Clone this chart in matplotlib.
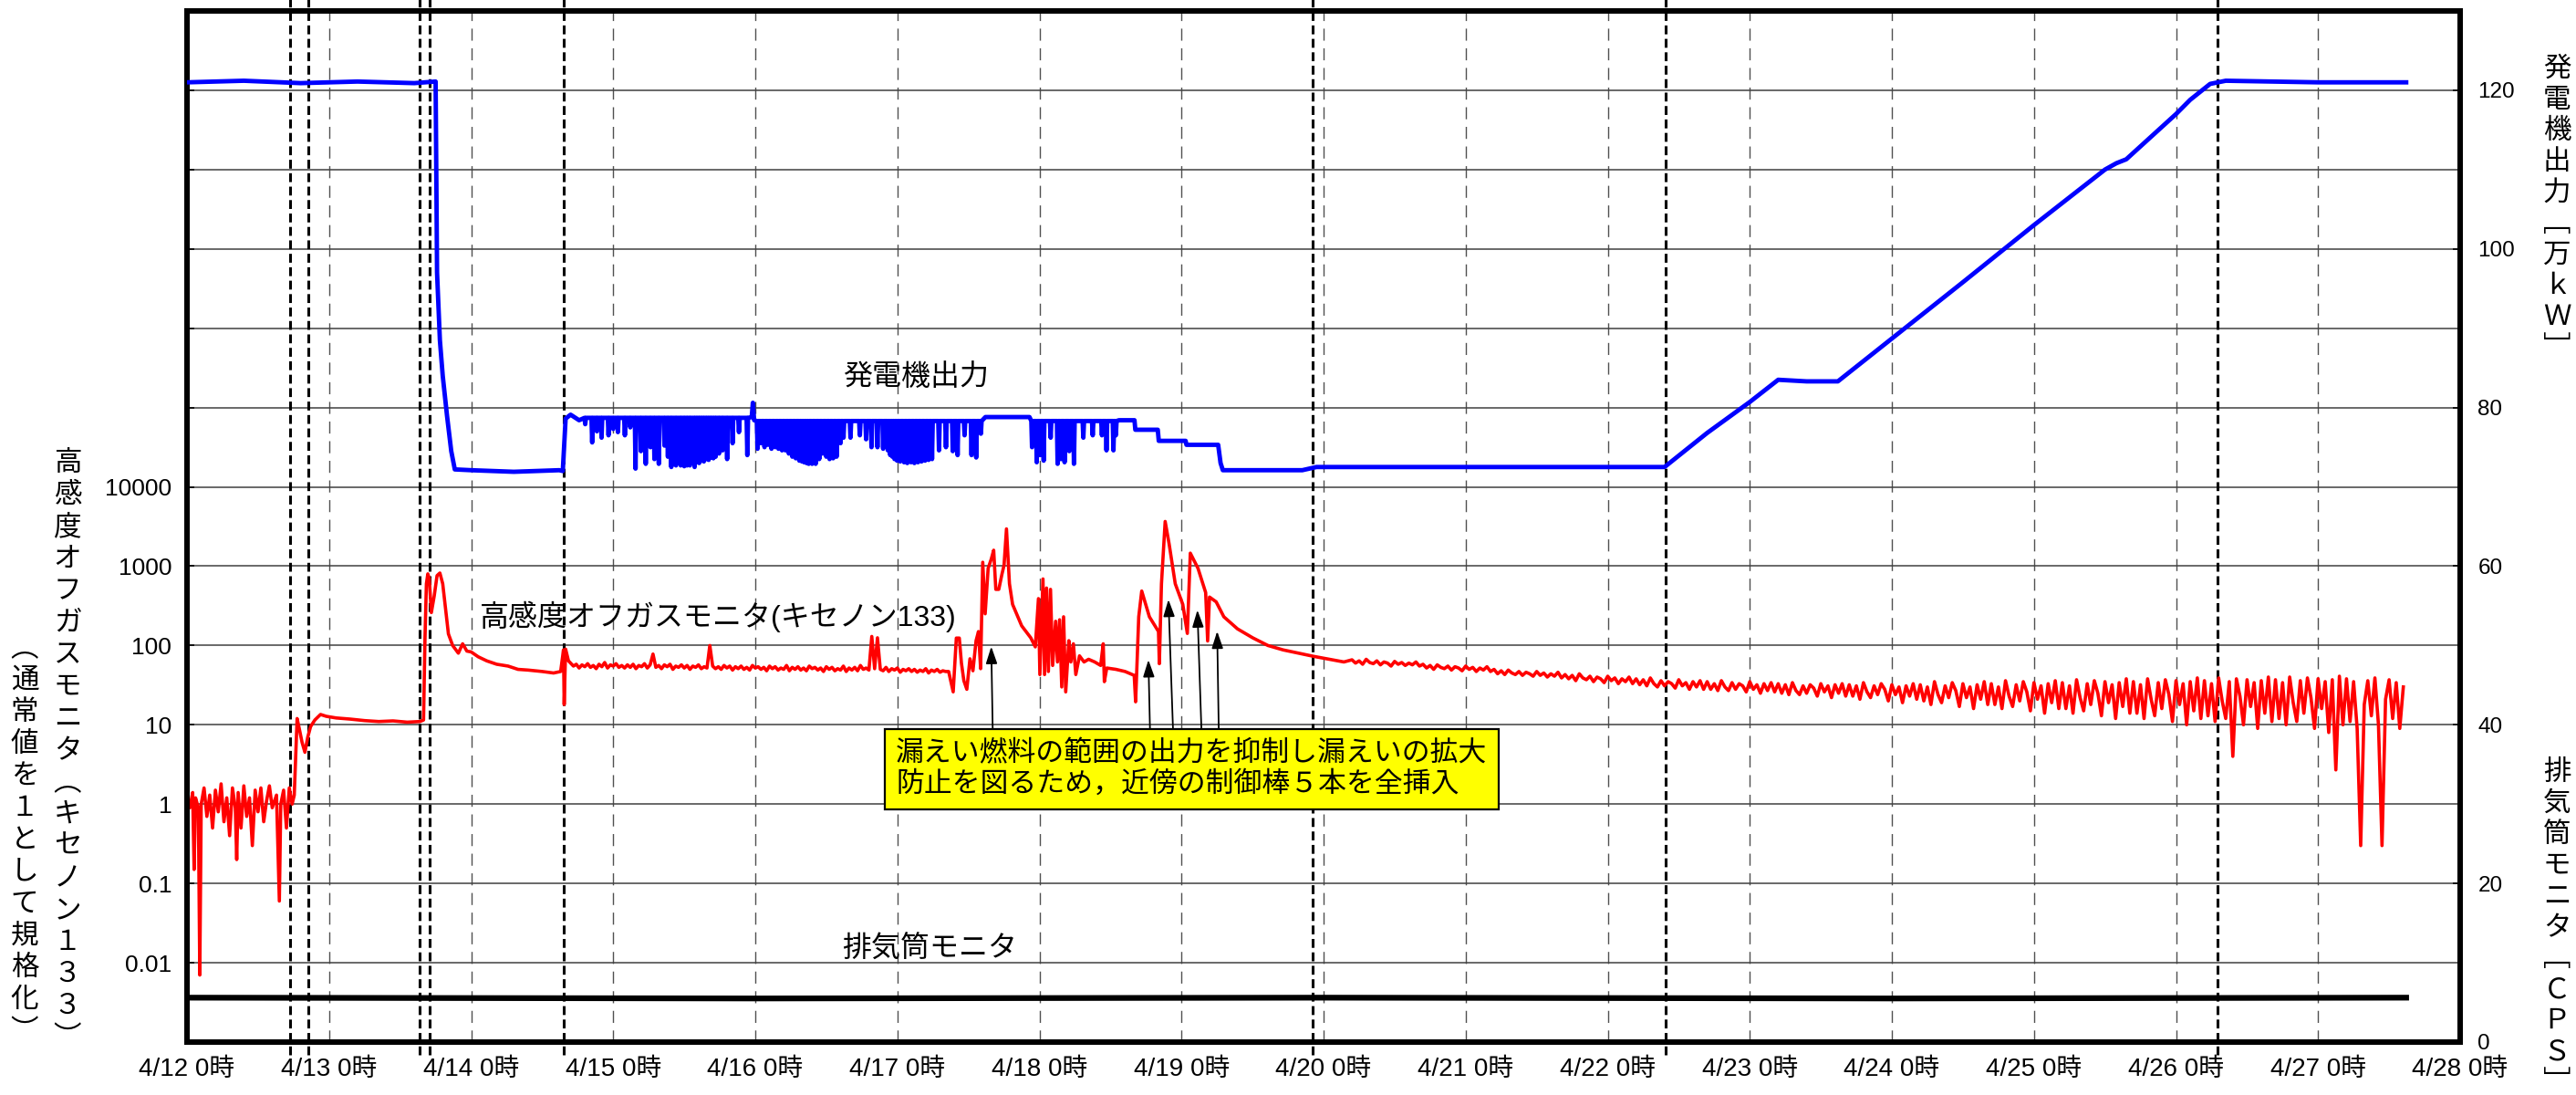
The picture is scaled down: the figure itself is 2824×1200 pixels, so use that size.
import numpy as np
import matplotlib
matplotlib.use('Agg')
import matplotlib.pyplot as plt
from matplotlib.ticker import FixedLocator, FuncFormatter, NullLocator

plt.rcParams['font.family'] = ['Liberation Sans', 'Noto Sans CJK JP', 'DejaVu Sans']
plt.rcParams['lines.scale_dashes'] = False

# x axis: days counted from 4/12 0時
day_labels = ['4/12 0時', '4/13 0時', '4/14 0時', '4/15 0時', '4/16 0時', '4/17 0時',
              '4/18 0時', '4/19 0時', '4/20 0時', '4/21 0時', '4/22 0時', '4/23 0時',
              '4/24 0時', '4/25 0時', '4/26 0時', '4/27 0時', '4/28 0時']

# thick dashed event markers (days)
event_days = [0.726, 0.854, 1.637, 1.708, 2.652, 7.92, 10.41, 14.29]

# ---- generator output [万kW] (right axis) ----
gen_head = [(0.00, 121.0), (0.40, 121.2), (0.80, 120.9), (1.20, 121.1), (1.60, 120.9),
            (1.750, 121.1), (1.760, 97.0), (1.780, 88.5), (1.800, 84.0), (1.830, 79.0),
            (1.860, 74.5), (1.885, 72.2), (2.00, 72.1), (2.30, 71.9), (2.62, 72.1),
            (2.645, 72.0), (2.665, 78.6), (2.700, 79.1), (2.760, 78.4)]
gen_top_a = 78.7
gen_dips_a = [(2.803, 77.9), (2.852, 75.6), (2.885, 77.0), (2.918, 76.2), (2.967, 76.5),
              (3.000, 77.3), (3.033, 76.9), (3.082, 76.5), (3.120, 77.5), (3.157, 72.3),
              (3.195, 74.5), (3.229, 72.9), (3.262, 75.0), (3.290, 73.5), (3.321, 72.9),
              (3.361, 75.2), (3.385, 73.8), (3.409, 72.5), (3.442, 72.7), (3.475, 72.7),
              (3.500, 72.6), (3.520, 72.7), (3.540, 72.7), (3.573, 72.5), (3.589, 73.1),
              (3.605, 73.0), (3.622, 73.3), (3.638, 73.2), (3.655, 73.5), (3.672, 73.4),
              (3.688, 73.7), (3.705, 73.6), (3.721, 73.8), (3.745, 74.2), (3.770, 74.6),
              (3.802, 73.5), (3.840, 75.5), (3.885, 76.9), (3.944, 74.0)]
gen_peak = [(3.975, 78.8), (3.983, 80.6), (3.992, 78.4)]
gen_top_b = 78.3
gen_dips_b = [(4.016, 74.8), (4.040, 75.5), (4.065, 75.0), (4.090, 75.3), (4.114, 74.8),
              (4.140, 75.0), (4.163, 74.8), (4.188, 74.6), (4.212, 74.6), (4.236, 74.2),
              (4.261, 73.8), (4.285, 73.6), (4.310, 73.3), (4.328, 73.2), (4.343, 73.1),
              (4.360, 73.0), (4.376, 72.9), (4.400, 72.9), (4.425, 72.9), (4.450, 73.5),
              (4.474, 74.2), (4.500, 73.8), (4.523, 73.5), (4.548, 73.6), (4.572, 73.8),
              (4.600, 75.5), (4.621, 76.2), (4.670, 76.2), (4.736, 76.5), (4.780, 76.0),
              (4.818, 75.0), (4.860, 75.0), (4.900, 74.8), (4.933, 74.6), (4.950, 74.0),
              (4.965, 73.8), (4.980, 73.5), (4.998, 73.3), (5.020, 73.2), (5.047, 73.1),
              (5.070, 73.0), (5.096, 73.1), (5.120, 73.0), (5.145, 73.1), (5.170, 73.2),
              (5.195, 73.3), (5.220, 73.4), (5.244, 73.5), (5.293, 74.6), (5.342, 75.0),
              (5.390, 74.5), (5.424, 74.0), (5.473, 76.5), (5.522, 74.0), (5.555, 73.7),
              (5.588, 76.7)]
gen_flat = [(5.620, 78.8), (5.930, 78.8)]
gen_top_c = 78.3
gen_dips_c = [(5.948, 75.0), (5.981, 73.1), (6.005, 74.0), (6.030, 73.3), (6.079, 76.2),
              (6.128, 72.9), (6.150, 73.5), (6.177, 73.1), (6.210, 74.5), (6.243, 72.9),
              (6.309, 76.2), (6.375, 76.5), (6.440, 76.5), (6.472, 74.6), (6.521, 74.6),
              (6.538, 76.5)]
gen_tail = [(6.560, 78.4), (6.669, 78.4), (6.675, 77.2), (6.833, 77.2), (6.840, 75.8),
            (7.029, 75.8), (7.035, 75.3), (7.258, 75.3), (7.275, 73.0), (7.291, 72.1),
            (7.85, 72.1), (7.95, 72.5), (10.40, 72.5), (10.70, 76.8), (11.00, 80.7),
            (11.20, 83.5), (11.40, 83.3), (11.62, 83.3), (12.00, 88.7), (12.50, 95.8),
            (13.00, 103.0), (13.50, 110.0), (13.58, 110.8), (13.65, 111.3), (14.00, 117.0),
            (14.10, 118.8), (14.24, 120.8), (14.35, 121.2), (15.00, 121.0), (15.62, 121.0)]

# ---- stack monitor [CPS] (right axis) ----
stack_pts = [(0.0, 5.6), (4.0, 5.5), (8.0, 5.6), (12.0, 5.5), (15.62, 5.6)]

# ---- off-gas monitor, Xe-133 normalised (left log axis) ----
xe_pts_1 = [(0.00, 1.3), (0.02, 0.9), (0.04, 1.4), (0.05, 0.15), (0.06, 1.2), (0.08, 0.9),
            (0.09, 0.007), (0.10, 1.0), (0.12, 1.6), (0.14, 0.7), (0.16, 1.3), (0.18, 0.5),
            (0.20, 1.5), (0.22, 0.8), (0.24, 1.8), (0.26, 0.6), (0.28, 1.2), (0.30, 0.4),
            (0.32, 1.6), (0.34, 0.9), (0.35, 0.2), (0.36, 1.4), (0.38, 0.5), (0.40, 1.7),
            (0.42, 0.7), (0.44, 1.2), (0.46, 0.3), (0.48, 1.5), (0.50, 0.8), (0.52, 1.6),
            (0.54, 0.6), (0.56, 1.1), (0.58, 1.7), (0.60, 0.9), (0.63, 1.3), (0.65, 0.06),
            (0.66, 1.0), (0.68, 1.5), (0.70, 0.5), (0.72, 1.6), (0.74, 1.0)]
xe_pts_2 = [(0.755, 1.3), (0.775, 12.0), (0.79, 9.0), (0.81, 6.0), (0.83, 4.5), (0.85, 7.0),
            (0.87, 9.5), (0.90, 11.5), (0.94, 13.5), (0.98, 12.8), (1.05, 12.2), (1.15, 11.8),
            (1.25, 11.3), (1.35, 11.0), (1.45, 11.2), (1.55, 10.8), (1.64, 11.0), (1.665, 11.5),
            (1.675, 120), (1.685, 600), (1.695, 800), (1.705, 700), (1.72, 260), (1.74, 420),
            (1.76, 760), (1.78, 820), (1.80, 600), (1.84, 140), (1.87, 100), (1.91, 80),
            (1.94, 105), (1.97, 85), (2.00, 83), (2.05, 72), (2.11, 64), (2.18, 58),
            (2.26, 55), (2.33, 50), (2.40, 49), (2.50, 47), (2.58, 45), (2.63, 47),
            (2.650, 88), (2.655, 18), (2.665, 90), (2.685, 64)]
# 2.70 .. 5.34 every 0.02 day
xe_mid_start, xe_mid_step = 2.70, 0.02
xe_mid = [60, 55, 58, 52, 57, 54, 59, 53, 56, 51, 58, 54, 61, 52, 57, 55, 59, 53, 56, 52,
          57, 53, 58, 51, 56, 54, 59, 52, 57, 78, 53, 56, 51, 57, 54, 58, 50, 55, 53, 57,
          52, 56, 50, 55, 53, 57, 51, 54, 52, 100, 55, 51, 54, 50, 56, 52, 55, 49, 54, 51,
          55, 50, 53, 49, 56, 52, 54, 50, 53, 48, 55, 51, 54, 49, 52, 50, 56, 48, 53, 50,
          54, 49, 52, 48, 55, 51, 53, 49, 52, 47, 54, 50, 53, 48, 51, 49, 55, 47, 52, 49,
          53, 48, 56, 50, 52, 49, 130, 51, 125, 50, 48, 53, 47, 51, 49, 52, 46, 50, 48, 51,
          47, 50, 46, 49, 47, 51, 45, 49, 47, 50, 46, 48, 47]
xe_pts_4 = [(5.361, 47), (5.393, 26), (5.415, 124), (5.436, 124), (5.451, 60), (5.468, 36),
            (5.489, 28), (5.511, 68), (5.532, 48), (5.554, 115), (5.571, 150), (5.586, 51),
            (5.601, 1120), (5.618, 251), (5.639, 940), (5.661, 1230), (5.678, 1590),
            (5.693, 510), (5.714, 510), (5.736, 790), (5.751, 1030), (5.768, 2950),
            (5.789, 600), (5.811, 330), (5.875, 177), (5.939, 125), (5.971, 96),
            (5.993, 390), (6.003, 43), (6.025, 690), (6.036, 43), (6.050, 530), (6.063, 47),
            (6.078, 510), (6.093, 56), (6.114, 202), (6.127, 62), (6.142, 211), (6.157, 30),
            (6.170, 230), (6.185, 26), (6.207, 115), (6.221, 62), (6.239, 105), (6.256, 43),
            (6.282, 74), (6.314, 62), (6.346, 67), (6.389, 62), (6.431, 56), (6.449, 105),
            (6.457, 35), (6.474, 52), (6.539, 50), (6.603, 47), (6.667, 42), (6.677, 19.5),
            (6.699, 230), (6.720, 486), (6.774, 230), (6.838, 150), (6.844, 59), (6.859, 600),
            (6.885, 3660), (6.913, 1900), (6.956, 600), (7.009, 330), (7.041, 142),
            (7.062, 1460), (7.116, 940), (7.170, 465), (7.184, 114), (7.197, 408),
            (7.244, 355), (7.298, 230), (7.394, 162), (7.501, 125), (7.608, 100),
            (7.715, 88), (7.929, 73), (8.143, 62)]
# 8.20 .. 15.60 every 0.025 day
xe_tail_start, xe_tail_step = 8.20, 0.025
xe_tail = [66, 60, 64, 58, 67, 61, 59, 64, 57, 62, 60, 55, 63, 58, 61, 56, 60, 57, 62, 55,
           58, 52, 56, 50, 57, 53, 51, 55, 49, 54, 52, 48, 55, 50, 53, 47, 52, 49, 54, 47,
           50, 44, 48, 43, 49, 45, 43, 47, 42, 46, 44, 41, 47, 42, 45, 40, 44, 41, 46, 39,
           43, 38, 42, 36, 44, 39, 37, 41, 35, 40, 38, 34, 41, 36, 39, 33, 38, 35, 40, 33,
           38, 32, 37, 31, 39, 33, 30, 36, 31, 35, 33, 29, 37, 31, 34, 28, 35, 30, 36, 28,
           35, 28, 33, 27, 36, 30, 27, 34, 28, 33, 31, 26, 35, 28, 32, 25, 33, 27, 34, 26,
           33, 25, 32, 24, 34, 27, 24, 31, 25, 32, 29, 23, 33, 26, 31, 22, 32, 25, 33, 23,
           32, 23, 31, 21, 34, 26, 22, 31, 24, 33, 28, 20, 32, 24, 30, 19, 31, 23, 33, 21,
           32, 20, 30, 18, 35, 24, 19, 31, 22, 34, 27, 17, 33, 22, 30, 16, 32, 21, 35, 18,
           33, 18, 30, 16, 36, 23, 17, 32, 20, 35, 26, 15, 34, 21, 31, 14, 33, 19, 36, 16,
           34, 16, 31, 14, 37, 22, 15, 33, 18, 36, 25, 13, 35, 19, 32, 12, 34, 17, 38, 14,
           35, 14, 32, 12, 38, 21, 13, 34, 16, 37, 24, 11, 36, 18, 33, 10, 35, 15, 39, 12,
           36, 13, 33, 11, 39, 20, 12, 35, 4, 38, 23, 10, 37, 17, 34, 9, 36, 14, 40, 11,
           37, 12, 34, 10, 40, 19, 11, 36, 14, 39, 22, 9, 38, 16, 35, 8, 37, 2.7, 41, 10,
           38, 11, 35, 9, 0.3, 18, 36, 13, 39, 10, 0.3, 21, 37, 12, 34, 9, 30]

# arrows: leak-related control rod insertions
arrow_tip_day = [5.661, 6.767, 6.908, 7.112, 7.251]
arrow_tip_val = [97, 66, 381, 280, 151]
arrow_tail_day = [5.671, 6.778, 6.940, 7.140, 7.262]
arrow_tail_val = 9.0


def chatter(dips, top, width=0.005):
    # each dip drawn as a narrow drop from the surrounding level
    d, v = [], []
    for day, low in dips:
        d += [day - width, day, day + width]
        v += [top, low, top]
    return d, v


def unzip(pts):
    return [p[0] for p in pts], [p[1] for p in pts]


# assemble series
gen_day, gen_mw = [], []
for part in (unzip(gen_head), chatter(gen_dips_a, gen_top_a), unzip(gen_peak),
             chatter(gen_dips_b, gen_top_b), unzip(gen_flat),
             chatter(gen_dips_c, gen_top_c), unzip(gen_tail)):
    gen_day += part[0]
    gen_mw += part[1]

xe_day, xe_val = [], []
for part in (unzip(xe_pts_1), unzip(xe_pts_2),
             (list(xe_mid_start + xe_mid_step * np.arange(len(xe_mid))), xe_mid),
             unzip(xe_pts_4),
             (list(xe_tail_start + xe_tail_step * np.arange(len(xe_tail))), xe_tail)):
    xe_day += part[0]
    xe_val += part[1]

stack_day, stack_cps = unzip(stack_pts)

W, H = 2824, 1200
fig = plt.figure(figsize=(W / 100, H / 100), dpi=100)
ax = fig.add_axes([205 / W, 1 - 1142 / H, (2697 - 205) / W, (1142 - 12) / H])
ax.set_yscale('log')
ax.set_xlim(0, 16)
ax.set_ylim(1e-3, 1e10)

ax.yaxis.set_major_locator(FixedLocator([10.0 ** k for k in range(-2, 10)]))
ax.yaxis.set_minor_locator(NullLocator())
ax.yaxis.set_major_formatter(FuncFormatter(lambda v, p: f'{v:g}' if v <= 1e4 * 1.01 else ''))
ax.set_xticks(range(17))
ax.set_xticklabels(day_labels)
ax.tick_params(axis='y', direction='in', length=6, width=1.2, labelsize=19, pad=12)
ax.tick_params(axis='x', length=0, labelsize=20, pad=12)
ax.grid(axis='y', color='#404040', lw=1.1)
ax.grid(axis='x', color='#505050', lw=1.0, linestyle=(0, (9.5, 6)))

for d in event_days:
    ax.axvline(d, ymin=-0.012, ymax=1.012, clip_on=False, color='k', lw=2.2,
               linestyle=(0, (7, 3.6)), zorder=2.5)

ax.plot(xe_day, xe_val, color='#FF0000', lw=2.6, zorder=3)

for td, tv, sd in zip(arrow_tip_day, arrow_tip_val, arrow_tail_day):
    ax.annotate('', xy=(td, tv), xytext=(sd, arrow_tail_val),
                arrowprops=dict(arrowstyle='-|>,head_length=0.45,head_width=0.15',
                                mutation_scale=25, color='k', lw=1.3,
                                shrinkA=0, shrinkB=0), zorder=4)

ax2 = ax.twinx()
ax2.set_ylim(0, 130)
ax2.set_yticks(range(0, 121, 20))
ax2.tick_params(axis='y', direction='in', length=6, width=1.2, labelsize=17.5, pad=14)
ax2.plot(gen_day, gen_mw, color='#0000FF', lw=3.5, zorder=3)
ax2.plot(stack_day, stack_cps, color='k', lw=4.5, zorder=3)

for a in (ax, ax2):
    for s in a.spines.values():
        s.set_linewidth(4.3)

ax2.text(5.13, 83.7, '発電機出力', ha='center', va='center', fontsize=23)
ax2.text(3.737, 53.6, '高感度オフガスモニタ(キセノン133)', ha='center', va='center', fontsize=23)
ax2.text(5.23, 11.6, '排気筒モニタ', ha='center', va='center', fontsize=23)
ax2.text(4.99, 34.4, '漏えい燃料の範囲の出力を抑制し漏えいの拡大\n防止を図るため，近傍の制御棒５本を全挿入',
         ha='left', va='center', fontsize=22.2, linespacing=1.15, zorder=10,
         bbox=dict(boxstyle='square,pad=0.4', fc='#FFFF00', ec='k', lw=1.6))


def vertical_label(chars, x_px, y_px, pitch, size):
    for i, ch in enumerate(chars):
        fig.text(x_px / W, 1 - (y_px + i * pitch) / H, ch, ha='center', va='center',
                 fontsize=size)


vertical_label('高感度オフガスモニタ︵キセノン１３３︶', 74, 508, 35, 22)
vertical_label('︵通常値を１として規格化︶', 27, 711, 35, 22)
vertical_label('発電機出力﹇万ｋＷ﹈', 2803, 76, 34, 22)
vertical_label('排気筒モニタ﹇ＣＰＳ﹈', 2803, 847, 34, 22)

fig.savefig('out.png', dpi=100)
